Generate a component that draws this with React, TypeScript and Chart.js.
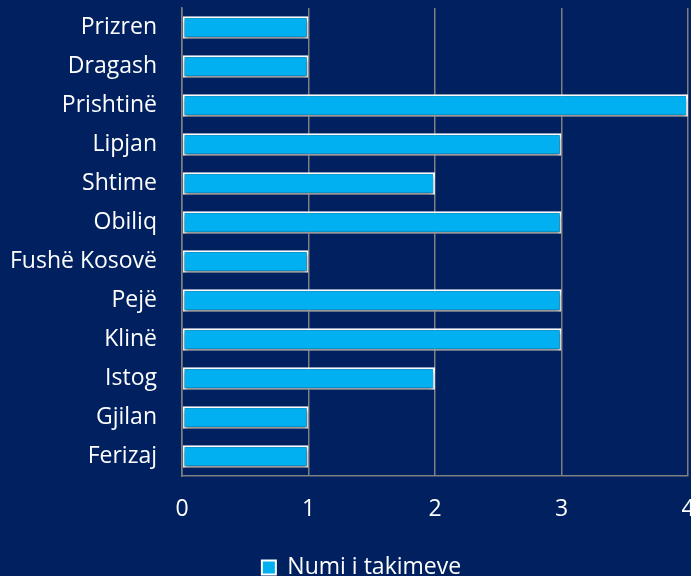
import React, { useEffect, useRef } from "react";
import { Chart, registerables } from "chart.js";

Chart.register(...registerables);

const categories = [
  "Prizren",
  "Dragash",
  "Prishtinë",
  "Lipjan",
  "Shtime",
  "Obiliq",
  "Fushë Kosovë",
  "Pejë",
  "Klinë",
  "Istog",
  "Gjilan",
  "Ferizaj",
];
const seriesName = "Numi i takimeve";
const values = [1, 1, 4, 3, 2, 3, 1, 3, 3, 2, 1, 1];
const xTicks = [0, 1, 2, 3, 4];

const BG = "#002060";
const BAR = "#00B0F0";
const GRID = "#7f7f7f";
const FONT = "'Open Sans'";
const FS = 23;

export default function App() {
  const ref = useRef<HTMLCanvasElement | null>(null);

  useEffect(() => {
    document.body.style.margin = "0";
    document.body.style.background = BG;
    const canvas = ref.current;
    if (!canvas) return;

    const bgPlugin = {
      id: "bg",
      beforeDraw(chart: any) {
        const ctx = chart.ctx;
        ctx.save();
        ctx.fillStyle = BG;
        ctx.fillRect(0, 0, chart.width, chart.height);
        ctx.restore();
      },
      afterLayout(chart: any) {
        const lg = chart.legend;
        if (lg) {
          lg.left += 16;
          lg.right += 16;
        }
      },
      beforeDatasetsDraw(chart: any) {
        const ctx = chart.ctx;
        ctx.save();
        ctx.shadowColor = "rgba(0,0,0,0.45)";
        ctx.shadowBlur = 4;
        ctx.shadowOffsetY = 3;
      },
      afterDatasetsDraw(chart: any) {
        chart.ctx.restore();
      },
    };

    const chart = new Chart(canvas, {
      type: "bar",
      data: {
        labels: categories,
        datasets: [
          {
            label: seriesName,
            data: values,
            backgroundColor: BAR,
            borderColor: "#ffffff",
            borderWidth: 2,
            borderSkipped: false,
            barPercentage: 0.8,
            categoryPercentage: 0.72,
          },
        ],
      },
      options: {
        indexAxis: "y",
        animation: false,
        responsive: false,
        maintainAspectRatio: false,
        layout: { padding: { top: 8, left: 0, right: 0, bottom: -13 } },
        plugins: {
          legend: {
            position: "bottom",
            labels: {
              color: "#ffffff",
              font: { family: FONT, size: FS, lineHeight: 1.05 },
              boxWidth: 14,
              boxHeight: 14,
              padding: 1,
              useBorderRadius: false,
            },
          },
          tooltip: { enabled: false },
        },
        scales: {
          x: {
            type: "linear",
            min: 0,
            max: 4,
            afterBuildTicks(scale: any) {
              scale.ticks = xTicks.map((v) => ({ value: v }));
            },
            afterFit(scale: any) {
              scale.paddingRight = 3;
              scale.paddingLeft = 0;
              scale.height = 79;
            },
            grid: {
              color: GRID,
              lineWidth: 1.5,
              drawTicks: false,
            },
            border: { display: true, color: GRID, width: 1.5 },
            ticks: {
              color: "#ffffff",
              font: { family: FONT, size: FS },
              padding: 20,
            },
          },
          y: {
            afterFit(scale: any) {
              scale.width = 182;
              scale.paddingTop = 0;
              scale.paddingBottom = 0;
            },
            grid: { display: false, drawTicks: false },
            border: { display: true, color: GRID, width: 1.5 },
            ticks: {
              color: "#ffffff",
              font: { family: FONT, size: FS },
              padding: 25,
            },
          },
        },
      },
      plugins: [bgPlugin],
    });

    return () => chart.destroy();
  }, []);

  return (
    <div style={{ position: "absolute", left: 0, top: 0, width: 691, height: 576 }}>
      <canvas ref={ref} width={691} height={576} style={{ display: "block" }} />
    </div>
  );
}
